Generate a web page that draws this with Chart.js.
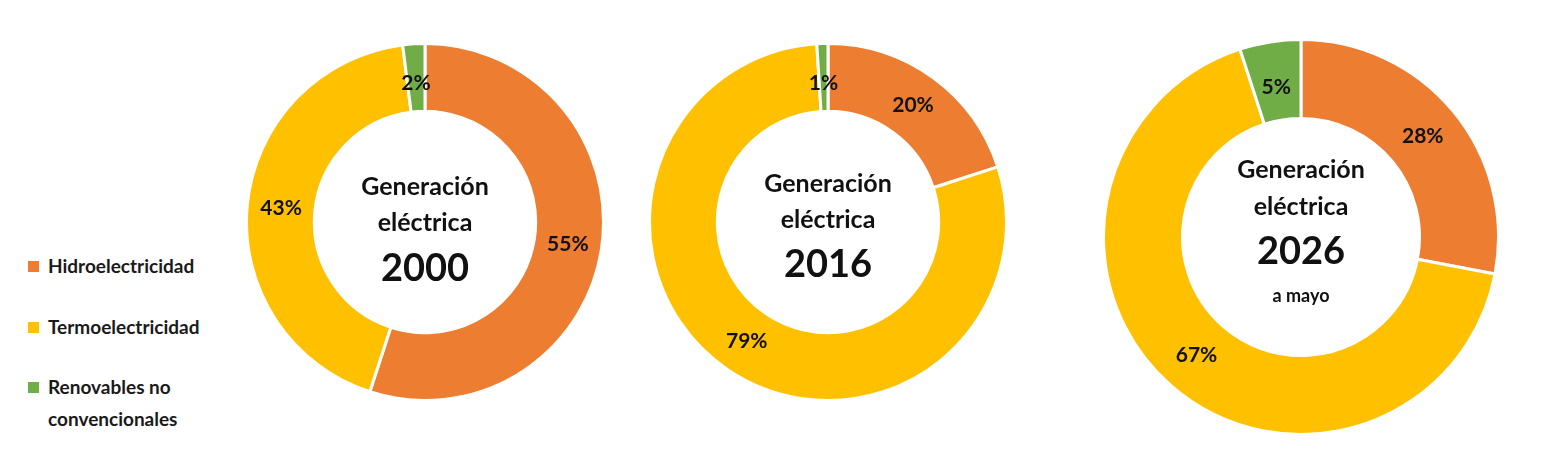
<!DOCTYPE html>
<html><head><meta charset="utf-8">
<script src="https://cdn.jsdelivr.net/npm/chart.js@4"></script>
<style>
body{margin:0;background:#fff;width:1560px;height:466px;position:relative;overflow:hidden;font-family:Lato,"Open Sans",sans-serif}
canvas{position:absolute}
.lg{position:absolute;left:28px;font-size:19px;font-weight:bold;color:#1a1a1a;line-height:32px}
.lg i{display:inline-block;width:11px;height:11px;margin-right:9px;vertical-align:1px}
</style></head><body>
<div class="lg" style="top:250px"><i style="background:#ED7D31"></i>Hidroelectricidad</div>
<div class="lg" style="top:311px"><i style="background:#FFC000"></i>Termoelectricidad</div>
<div class="lg" style="top:371px"><i style="background:#70AD47"></i>Renovables no<br><span style="padding-left:20px">convencionales</span></div>
<canvas id="c1"></canvas><canvas id="c2"></canvas><canvas id="c3"></canvas>
<script>
var categories = ['Hidroelectricidad', 'Termoelectricidad', 'Renovables no convencionales'];
var values2000 = [55, 43, 2];
var values2016 = [20, 79, 1];
var values2026 = [28, 67, 5];
var colors = ['#ED7D31', '#FFC000', '#70AD47'];

var labelPlugin = {
    id: 'labels',
    afterDraw: function (chart) {
        var ctx = chart.ctx;
        var meta = chart.getDatasetMeta(0);
        var o = chart.options.plugins.labels;
        ctx.save();
        ctx.fillStyle = '#111';
        ctx.textAlign = 'center';
        ctx.textBaseline = 'middle';
        ctx.font = 'bold 21px Lato';
        meta.data.forEach(function (arc, i) {
            var p = arc.getProps(['x', 'y', 'startAngle', 'endAngle', 'innerRadius', 'outerRadius'], true);
            var a = (p.startAngle + p.endAngle) / 2;
            var r = (p.innerRadius + p.outerRadius) / 2;
            var dy = i == 2 ? 6 : 0;
            ctx.fillText(chart.data.datasets[0].data[i] + '%', p.x + Math.cos(a) * r, p.y + Math.sin(a) * r + dy);
        });
        var cx = meta.data[0].x, cy = meta.data[0].y;
        o.lines.forEach(function (l) {
            ctx.font = l[0];
            ctx.fillText(l[1], cx, cy + l[2]);
        });
        ctx.restore();
    }
};

function makeChart(id, data, cx, cy, R, cutout, lines) {
    var c = document.getElementById(id);
    var s = 2 * R + 4;
    c.width = s; c.height = s;
    c.style.left = (cx - s / 2) + 'px';
    c.style.top = (cy - s / 2) + 'px';
    new Chart(c, {
        type: 'doughnut',
        data: { labels: categories, datasets: [{ data: data, backgroundColor: colors, borderColor: '#fff', borderWidth: 3 }] },
        options: {
            responsive: false, animation: false, cutout: cutout,
            layout: { padding: 0 },
            plugins: { legend: { display: false }, tooltip: { enabled: false }, labels: { lines: lines } }
        },
        plugins: [labelPlugin]
    });
}

makeChart('c1', values2000, 425, 222, 178, '62%',
    [['bold 25px Lato', 'Generación', -35], ['bold 25px Lato', 'eléctrica', 1], ['bold 38px Lato', '2000', 47]]);
makeChart('c2', values2016, 828, 222, 178, '62%',
    [['bold 25px Lato', 'Generación', -38], ['bold 25px Lato', 'eléctrica', -2], ['bold 38px Lato', '2016', 43]]);
makeChart('c3', values2026, 1301, 237, 197, '60%',
    [['bold 25px Lato', 'Generación', -67], ['bold 25px Lato', 'eléctrica', -30], ['bold 38px Lato', '2026', 15], ['bold 18px Lato', 'a mayo', 59]]);
</script>
</body></html>
